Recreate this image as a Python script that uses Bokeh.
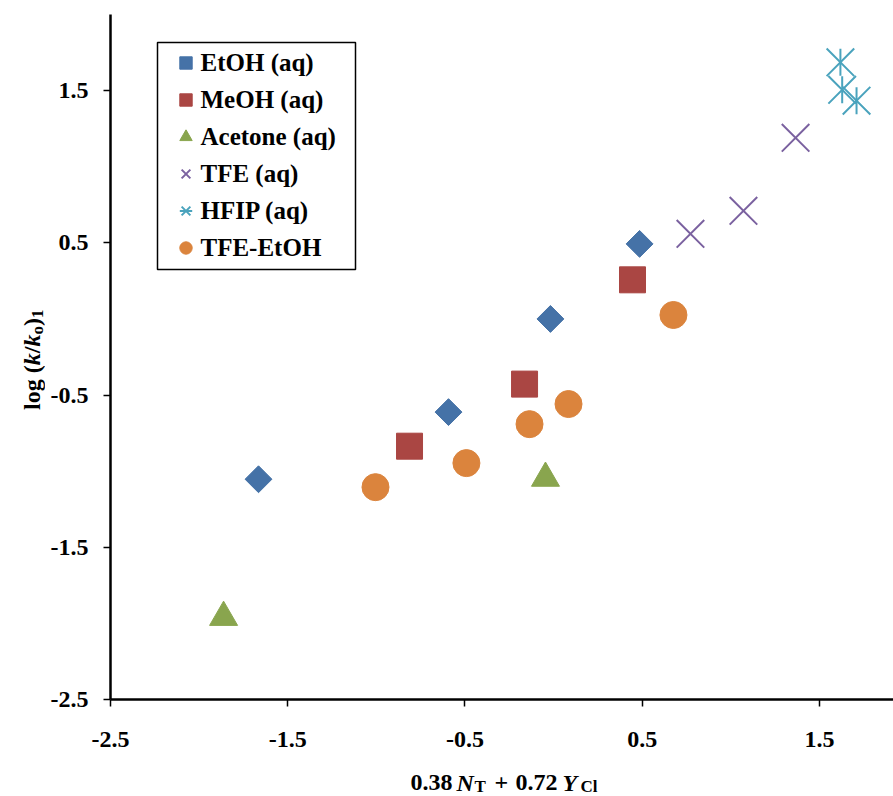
import math
from bokeh.plotting import figure
from bokeh.layouts import row, column
from bokeh.models import Range1d, FixedTicker, Legend, LegendItem, Label, BoxAnnotation
from bokeh.embed import file_html
from bokeh.resources import INLINE

# ---- data ----
etoh_x = [-1.665, -0.593, -0.018, 0.485]
etoh_y = [-1.053, -0.612, 0.000, 0.493]
meoh_x = [-0.813, -0.164, 0.445]
meoh_y = [-0.836, -0.428, 0.257]
acetone_x = [-1.862, -0.046]
acetone_y = [-1.960, -1.046]
tfe_x = [0.772, 1.071, 1.365]
tfe_y = [0.559, 0.710, 1.190]
hfip_x = [1.618, 1.628, 1.709]
hfip_y = [1.686, 1.505, 1.434]
tfe_etoh_x = [-1.005, -0.492, -0.136, 0.084, 0.676]
tfe_etoh_y = [-1.105, -0.947, -0.691, -0.559, 0.026]

series_labels = ["EtOH (aq)", "MeOH (aq)", "Acetone (aq)", "TFE (aq)", "HFIP (aq)", "TFE-EtOH"]
x_ticks = [-2.5, -1.5, -0.5, 0.5, 1.5]
x_tick_labels = ["-2.5", "-1.5", "-0.5", "0.5", "1.5"]
y_ticks = [-2.5, -1.5, -0.5, 0.5, 1.5]
y_tick_labels = ["-2.5", "-1.5", "-0.5", "0.5", "1.5"]

C_ETOH = "#4572A7"
C_MEOH = "#AA4643"
C_ACET = "#89A54E"
C_TFE = "#7B62A0"
C_HFIP = "#4AA3BD"
C_TFEE = "#DB843D"

FONT = "Liberation Serif"

TOTAL_W, TOTAL_H = 893, 796
LEFT_W = 45
MAIN_W = TOTAL_W - LEFT_W
MAIN_H = 765
BOT_H = TOTAL_H - MAIN_H
MAIN_BORDER_L = 65
FRAME_X0 = LEFT_W + MAIN_BORDER_L   # page x of the plot frame

p = figure(width=MAIN_W, height=MAIN_H,
           x_range=Range1d(-2.5, 1.9175), y_range=Range1d(-2.5, 2.0),
           output_backend="svg", toolbar_location=None,
           min_border_left=MAIN_BORDER_L, min_border_right=0,
           min_border_top=14, min_border_bottom=66)
p.outline_line_color = None
p.xgrid.visible = False
p.ygrid.visible = False
p.background_fill_color = "white"

for ax, ticks, labels, standoff in ((p.xaxis[0], x_ticks, x_tick_labels, 25),
                                    (p.yaxis[0], y_ticks, y_tick_labels, 15)):
    ax.ticker = FixedTicker(ticks=ticks, minor_ticks=[])
    ax.major_label_overrides = {t: l for t, l in zip(ticks, labels)}
    ax.axis_line_width = 2.5
    ax.axis_line_color = "black"
    ax.major_tick_line_width = 1.5
    ax.major_tick_line_color = "black"
    ax.major_tick_out = 7
    ax.major_tick_in = 0
    ax.minor_tick_line_color = None
    ax.major_label_text_font = FONT
    ax.major_label_text_font_style = "bold"
    ax.major_label_text_font_size = "24px"
    ax.major_label_text_color = "black"
    ax.major_label_standoff = standoff

r1 = p.scatter(etoh_x, etoh_y, marker="square", angle=math.pi / 4, size=19,
               fill_color=C_ETOH, line_color=C_ETOH)
r2 = p.scatter(meoh_x, meoh_y, marker="square", size=26,
               fill_color=C_MEOH, line_color=C_MEOH)
r3 = p.scatter(acetone_x, acetone_y, marker="triangle", size=28,
               fill_color=C_ACET, line_color=C_ACET)
r4 = p.scatter(tfe_x, tfe_y, marker="x", size=39, line_color=C_TFE, line_width=2)
r5a = p.scatter(hfip_x, hfip_y, marker="x", size=39, line_color=C_HFIP, line_width=2)
r5b = p.scatter(hfip_x, hfip_y, marker="dash", angle=math.pi / 2, size=27,
                line_color=C_HFIP, line_width=2)
r6 = p.scatter(tfe_etoh_x, tfe_etoh_y, marker="circle", size=27,
               fill_color=C_TFEE, line_color=C_TFEE)

# legend frame
box = BoxAnnotation(left=47, right=245, top=657, bottom=430,
                    left_units="screen", right_units="screen",
                    top_units="screen", bottom_units="screen",
                    fill_color="white", fill_alpha=1.0,
                    line_color="black", line_width=1.5, line_alpha=1.0)
p.add_layout(box)

legend = Legend(items=[
    LegendItem(label=series_labels[0], renderers=[r1]),
    LegendItem(label=series_labels[1], renderers=[r2]),
    LegendItem(label=series_labels[2], renderers=[r3]),
    LegendItem(label=series_labels[3], renderers=[r4]),
    LegendItem(label=series_labels[4], renderers=[r5a, r5b]),
    LegendItem(label=series_labels[5], renderers=[r6]),
], location=(59.5, 433.6))
legend.glyph_width = 31
legend.glyph_height = 35
legend.spacing = 2
legend.padding = 0
legend.margin = 0
legend.label_standoff = 0
legend.border_line_color = None
legend.background_fill_alpha = 0
legend.label_text_font = FONT
legend.label_text_font_style = "bold"
legend.label_text_font_size = "25px"
legend.label_text_color = "black"
p.add_layout(legend)


def strip(w, h, border_left=0):
    f = figure(width=w, height=h, x_range=Range1d(0, w - border_left), y_range=Range1d(0, h),
               x_axis_type=None, y_axis_type=None,
               output_backend="svg", toolbar_location=None,
               min_border=0, min_border_left=border_left, min_border_right=0,
               min_border_top=0, min_border_bottom=0)
    f.outline_line_color = None
    f.xgrid.visible = False
    f.ygrid.visible = False
    return f


def lab(fig, text, x, y, style="bold", size="24px", angle=0.0):
    fig.add_layout(Label(x=x, y=y, x_units="screen", y_units="screen", text=text,
                         text_font=FONT, text_font_style=style, text_font_size=size,
                         text_color="black", text_baseline="alphabetic",
                         text_align="left", angle=angle))


# x-axis title: 0.38 N_T + 0.72 Y_Cl  (strip frame aligned with the plot frame)
bot = strip(MAIN_W, BOT_H, border_left=MAIN_BORDER_L)
xb, xs = 14, 10
lab(bot, "0.38", 410 - FRAME_X0, xb)
lab(bot, "N", 456 - FRAME_X0, xb, style="bold italic")
lab(bot, "T", 474 - FRAME_X0, xs, size="17px")
lab(bot, "+", 494 - FRAME_X0, xb)
lab(bot, "0.72", 515 - FRAME_X0, xb)
lab(bot, "Y", 562 - FRAME_X0, xb, style="bold italic")
lab(bot, "Cl", 580 - FRAME_X0, xs, size="17px")

# y-axis title: log (k/k_o)_1 (rotated)
left = strip(LEFT_W, TOTAL_H)
A = math.pi / 2
yb, ys = 31.5, 36.5
y0 = TOTAL_H - 409.5
lab(left, "log (", yb, y0, angle=A)
lab(left, "k", yb, y0 + 44.7, style="bold italic", angle=A)
lab(left, "/", yb, y0 + 56.7, angle=A)
lab(left, "k", yb, y0 + 63.4, style="bold italic", angle=A)
lab(left, "o", ys, y0 + 75.4, size="17px", angle=A)
lab(left, ")", yb, y0 + 83.9, angle=A)
lab(left, "1", ys, y0 + 91.9, size="17px", angle=A)

layout = row(left, column(p, bot, spacing=0), spacing=0)

open("out.html", "w").write(file_html(layout, INLINE))
